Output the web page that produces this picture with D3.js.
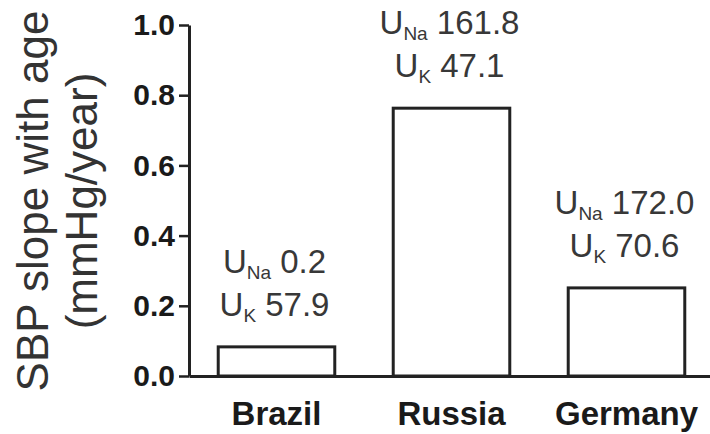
<!DOCTYPE html>
<html lang="en">
<head>
    <meta charset="UTF-8">
    <title>SBP slope with age</title>
    <script src="https://d3js.org/d3.v7.min.js"></script>
    <style>
        body { margin: 0; background: #fff; }
        text { font-family: "Liberation Sans", Arial, sans-serif; }
    </style>
</head>
<body>
    <svg id="chart" width="710" height="434"></svg>

    <script>
        // values
        const countries = ["Brazil", "Russia", "Germany"];
        const slopes = [0.083, 0.763, 0.251];
        const uNa = ["0.2", "161.8", "172.0"];
        const uK = ["57.9", "47.1", "70.6"];
        const yTicks = [0.0, 0.2, 0.4, 0.6, 0.8, 1.0];

        const data = countries.map((c, i) => ({country: c, slope: slopes[i], na: uNa[i], k: uK[i]}));

        const svg = d3.select("#chart");

        const x = d3.scaleBand()
                    .domain(countries)
                    .range([189, 714])
                    .paddingInner(0.334)
                    .paddingOuter(0.167);
        const y = d3.scaleLinear()
                    .domain([0, 1])
                    .range([376, 25]);

        // y axis
        const yAxis = svg.append("g")
           .attr("transform", "translate(189,0)")
           .call(d3.axisLeft(y).tickValues(yTicks).tickFormat(d3.format(".1f"))
                   .tickSize(10).tickSizeOuter(0).tickPadding(4));
        yAxis.select(".domain").attr("stroke", "#222").attr("stroke-width", 3);
        yAxis.selectAll(".tick line").attr("stroke", "#222").attr("stroke-width", 2.5);
        yAxis.selectAll(".tick text")
             .attr("fill", "#1a1a1a")
             .style("font-size", "30px")
             .style("font-weight", "bold");

        // bars
        svg.append("g").selectAll("rect")
           .data(data)
           .join("rect")
           .attr("x", d => x(d.country))
           .attr("y", d => y(d.slope))
           .attr("width", x.bandwidth())
           .attr("height", d => y(0) - y(d.slope))
           .attr("fill", "#fff")
           .attr("stroke", "#222")
           .attr("stroke-width", 3);

        // x axis
        const xAxis = svg.append("g")
           .attr("transform", `translate(0,${y(0)})`)
           .call(d3.axisBottom(x).tickSize(0).tickSizeOuter(0).tickPadding(26));
        xAxis.select(".domain").attr("stroke", "#222").attr("stroke-width", 3);
        xAxis.selectAll(".tick text")
             .attr("fill", "#1a1a1a")
             .style("font-size", "33px")
             .style("font-weight", "bold");

        // urinary sodium / potassium annotations
        const ann = svg.append("g").attr("fill", "#383838");
        function label(g, sub, val, yy, cx) {
            const t = g.append("text")
                       .attr("x", cx).attr("y", yy)
                       .attr("text-anchor", "middle")
                       .style("font-size", "33px");
            t.append("tspan").text("U");
            t.append("tspan").attr("dy", 6).style("font-size", "19px").text(sub);
            t.append("tspan").attr("dy", -6).text("\u00a0" + val);
        }
        data.forEach(d => {
            const cx = x(d.country) + x.bandwidth() / 2 - 2;
            const base = y(d.slope) - 31;
            label(ann, "Na", d.na, base - 43, cx);
            label(ann, "K", d.k, base, cx);
        });

        // y axis title
        const title = svg.append("text")
           .attr("transform", "translate(0,201) rotate(-90)")
           .attr("text-anchor", "middle")
           .attr("fill", "#333")
           .style("font-size", "44px");
        title.append("tspan").attr("x", 0).attr("y", 48).text("SBP slope with age");
        title.append("tspan").attr("x", 0).attr("y", 97).text("(mmHg/year)");
    </script>
</body>
</html>
